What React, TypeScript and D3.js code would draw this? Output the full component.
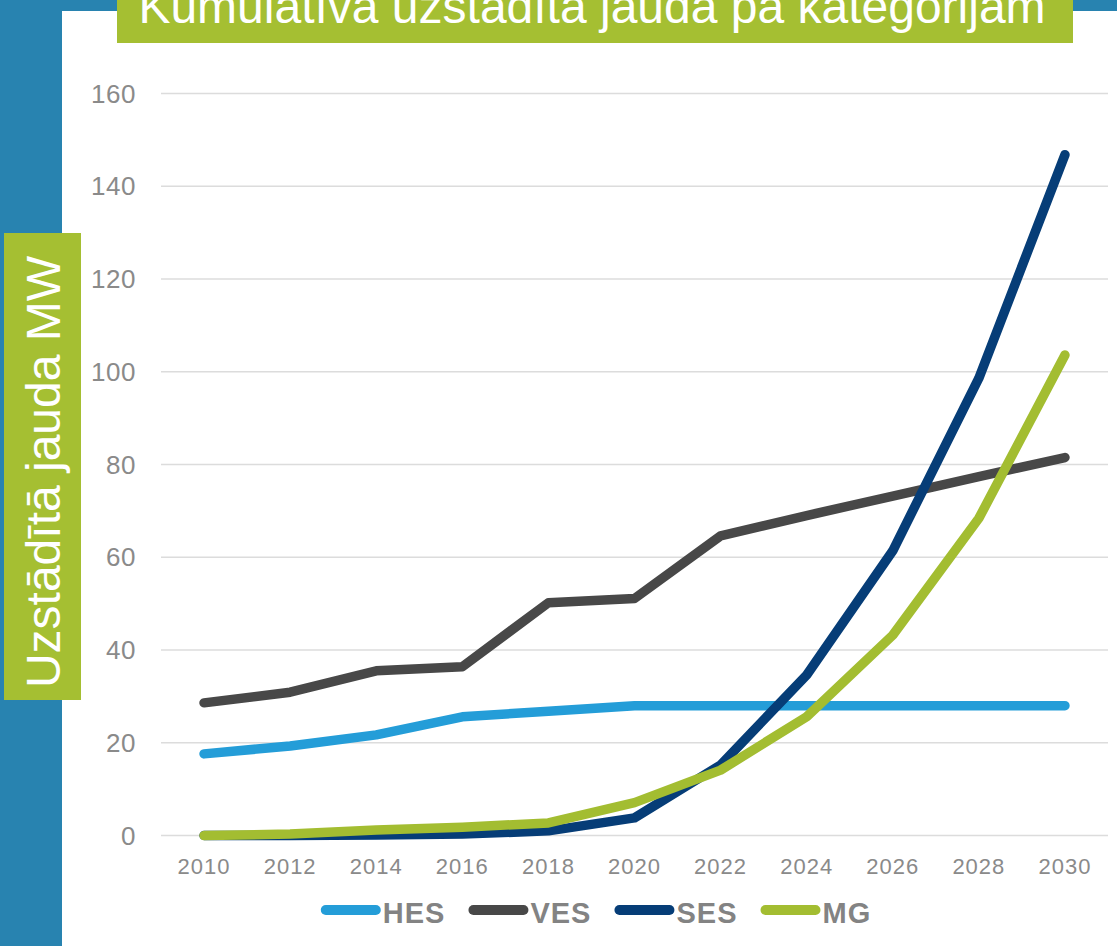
import React, { useEffect, useRef } from "react";
import * as d3 from "d3";

const years = ["2010", "2012", "2014", "2016", "2018", "2020", "2022", "2024", "2026", "2028", "2030"];
const hes = [17.6, 19.3, 21.7, 25.6, 26.8, 28.0, 28.0, 28.0, 28.0, 28.0, 28.0];
const ves = [28.6, 30.9, 35.5, 36.4, 50.2, 51.1, 64.6, 69.0, 73.2, 77.4, 81.5];
const ses = [0, 0, 0.1, 0.3, 1.0, 3.8, 15.2, 34.6, 61.4, 98.6, 146.8];
const mg = [0, 0.3, 1.2, 1.8, 2.7, 7.1, 14.1, 25.6, 43.2, 68.4, 103.6];
const yTicks = [0, 20, 40, 60, 80, 100, 120, 140, 160];
const seriesNames = ["HES", "VES", "SES", "MG"];
const seriesColors = ["#249DD8", "#484848", "#063D77", "#A3BD31"];
const title = "Kumulatīvā uzstādītā jauda pa kategorijām";
const yTitle = "Uzstādītā jauda MW";

const W = 1117;
const H = 946;
const FONT = "'Liberation Sans', Arial, sans-serif";
const BLUE = "#2883B0";
const GREEN = "#A5BF32";

export default function App() {
  const ref = useRef<SVGSVGElement | null>(null);

  useEffect(() => {
    const svg = d3.select(ref.current);
    svg.selectAll("*").remove();

    // background
    svg.append("rect").attr("x", 0).attr("y", 0).attr("width", W).attr("height", H).attr("fill", BLUE);
    svg.append("rect").attr("x", 62).attr("y", 11).attr("width", W - 62).attr("height", H - 11).attr("fill", "#FFFFFF");

    const x = d3.scalePoint<string>().domain(years).range([161, 1108]).padding(0.5);
    const y = d3.scaleLinear().domain([0, 160]).range([835.5, 93.5]);

    // gridlines
    svg.append("g")
      .selectAll("line")
      .data(yTicks)
      .join("line")
      .attr("x1", 161)
      .attr("x2", 1108)
      .attr("y1", (d) => y(d))
      .attr("y2", (d) => y(d))
      .attr("stroke", "#DCDCDC")
      .attr("stroke-width", 1.6);

    // y labels
    svg.append("g")
      .selectAll("text")
      .data(yTicks)
      .join("text")
      .attr("x", 136)
      .attr("y", (d) => y(d))
      .attr("dy", "0.35em")
      .attr("text-anchor", "end")
      .attr("font-family", FONT)
      .attr("font-size", 26)
      .attr("letter-spacing", 0.5)
      .attr("fill", "#8A8A8A")
      .text((d) => String(d));

    // x labels
    svg.append("g")
      .selectAll("text")
      .data(years)
      .join("text")
      .attr("x", (d) => (x(d) as number))
      .attr("y", 874)
      .attr("text-anchor", "middle")
      .attr("font-family", FONT)
      .attr("font-size", 22)
      .attr("letter-spacing", 1)
      .attr("fill", "#8A8A8A")
      .text((d) => d);

    // lines
    const allSeries = [hes, ves, ses, mg];
    const line = d3
      .line<number>()
      .x((_, i) => x(years[i]) as number)
      .y((d) => y(d));
    allSeries.forEach((vals, i) => {
      svg.append("path")
        .attr("d", line(vals) as string)
        .attr("fill", "none")
        .attr("stroke", seriesColors[i])
        .attr("stroke-width", 9.5)
        .attr("stroke-linecap", "round")
        .attr("stroke-linejoin", "round");
    });

    // legend
    const lg = svg.append("g");
    const swatchW = 50;
    const items: { g: any; w: number }[] = [];
    seriesNames.forEach((name, i) => {
      const g = lg.append("g");
      g.append("line")
        .attr("x1", 5)
        .attr("x2", 5 + swatchW)
        .attr("y1", 910)
        .attr("y2", 910)
        .attr("stroke", seriesColors[i])
        .attr("stroke-width", 10)
        .attr("stroke-linecap", "round");
      const t = g.append("text")
        .attr("x", 62)
        .attr("y", 923)
        .attr("font-family", FONT)
        .attr("font-size", 29)
        .attr("font-weight", "bold")
        .attr("letter-spacing", 1)
        .attr("fill", "#838383")
        .text(name);
      const tw = (t.node() as SVGTextElement).getComputedTextLength();
      items.push({ g, w: 62 + tw });
    });
    const gap = 23;
    const total = items.reduce((s, it) => s + it.w, 0) + gap * (items.length - 1);
    let cx = 596 - total / 2;
    items.forEach((it) => {
      it.g.attr("transform", `translate(${cx},0)`);
      cx += it.w + gap;
    });

    // title box
    svg.append("rect").attr("x", 117).attr("y", 0).attr("width", 956).attr("height", 43).attr("fill", GREEN);
    svg.append("text")
      .attr("x", 592)
      .attr("y", 23)
      .attr("text-anchor", "middle")
      .attr("font-family", FONT)
      .attr("font-size", 48)
      .attr("fill", "#FFFFFF")
      .text(title);

    // y title box
    svg.append("rect").attr("x", 4).attr("y", 233).attr("width", 77).attr("height", 467).attr("fill", GREEN);
    svg.append("text")
      .attr("transform", "translate(60,472) rotate(-90)")
      .attr("text-anchor", "middle")
      .attr("font-family", FONT)
      .attr("font-size", 48)
      .attr("fill", "#FFFFFF")
      .text(yTitle);
  }, []);

  return (
    <svg
      ref={ref}
      width={W}
      height={H}
      style={{ position: "absolute", left: 0, top: 0, display: "block" }}
    />
  );
}
